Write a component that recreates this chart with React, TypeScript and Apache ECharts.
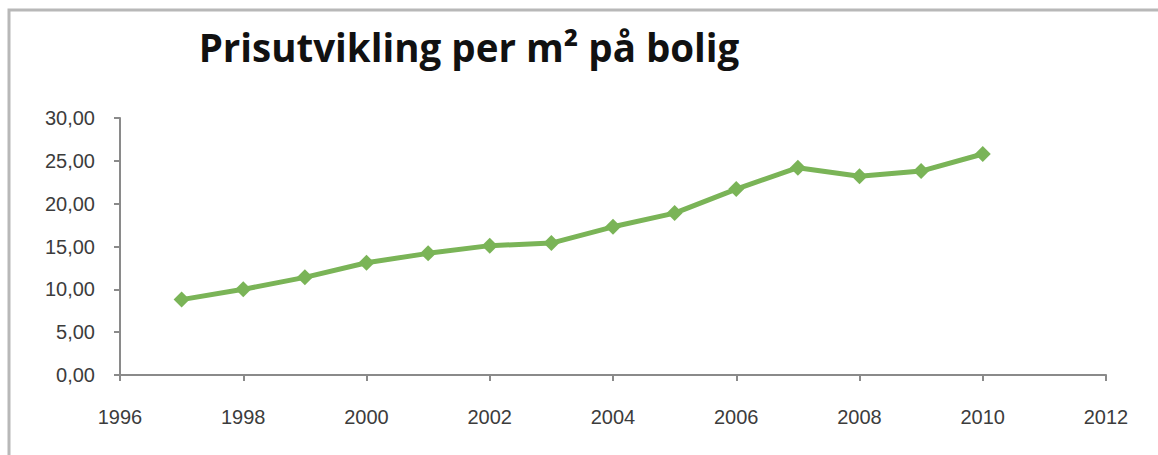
import React, { useEffect, useRef } from "react";
import * as echarts from "echarts";

// Price per square metre, by year
const years = [1997, 1998, 1999, 2000, 2001, 2002, 2003, 2004, 2005, 2006, 2007, 2008, 2009, 2010];
const prices = [8.8, 10.0, 11.4, 13.1, 14.2, 15.1, 15.4, 17.3, 18.9, 21.7, 24.2, 23.2, 23.8, 25.8];

const titleText = "Prisutvikling per m\u00B2 p\u00E5 bolig";
const xMin = 1996;
const xMax = 2012;
const xStep = 2;
const yMin = 0;
const yMax = 30;
const yStep = 5;

const GREEN = "#7ab457";
const AXIS = "#8a8a8a";
const LABEL = "#3c3c3c";

export default function App() {
  const ref = useRef<HTMLDivElement>(null);

  useEffect(() => {
    document.body.style.margin = "0";
    const chart = echarts.init(ref.current!, undefined, { renderer: "svg" });
    chart.setOption({
      animation: false,
      backgroundColor: "#ffffff",
      title: {
        text: titleText,
        left: 464,
        top: 22,
        textAlign: "center",
        textStyle: {
          fontFamily: "Open Sans",
          fontWeight: "bold",
          fontSize: 38.5,
          color: "#111111",
        },
      },
      graphic: [
        {
          type: "polyline",
          shape: { points: [[9, 460], [9, 10], [1160, 10]] },
          style: { stroke: "#b8b8b8", lineWidth: 3, fill: "none" },
          silent: true,
        },
      ],
      grid: { left: 120, right: 52, top: 118, bottom: 80, containLabel: false },
      xAxis: {
        type: "value",
        min: xMin,
        max: xMax,
        interval: xStep,
        splitLine: { show: false },
        axisLine: { show: true, lineStyle: { color: AXIS, width: 2 } },
        axisTick: { show: true, length: 6, lineStyle: { color: AXIS, width: 2 } },
        axisLabel: {
          margin: 32,
          fontFamily: "Liberation Sans",
          fontSize: 20,
          color: LABEL,
          formatter: (v: number) => String(v),
        },
      },
      yAxis: {
        type: "value",
        min: yMin,
        max: yMax,
        interval: yStep,
        splitLine: { show: false },
        axisLine: { show: true, lineStyle: { color: AXIS, width: 2 } },
        axisTick: { show: true, length: 6, lineStyle: { color: AXIS, width: 2 } },
        axisLabel: {
          margin: 25,
          fontFamily: "Liberation Sans",
          fontSize: 20,
          color: LABEL,
          formatter: (v: number) => v.toFixed(2).replace(".", ","),
        },
      },
      series: [
        {
          type: "line",
          data: years.map((y, i) => [y, prices[i]]),
          symbol: "diamond",
          symbolSize: 16,
          lineStyle: { color: GREEN, width: 5 },
          itemStyle: { color: GREEN, borderWidth: 0 },
        },
      ],
    });
    return () => chart.dispose();
  }, []);

  return <div ref={ref} style={{ width: 1158, height: 455 }} />;
}
